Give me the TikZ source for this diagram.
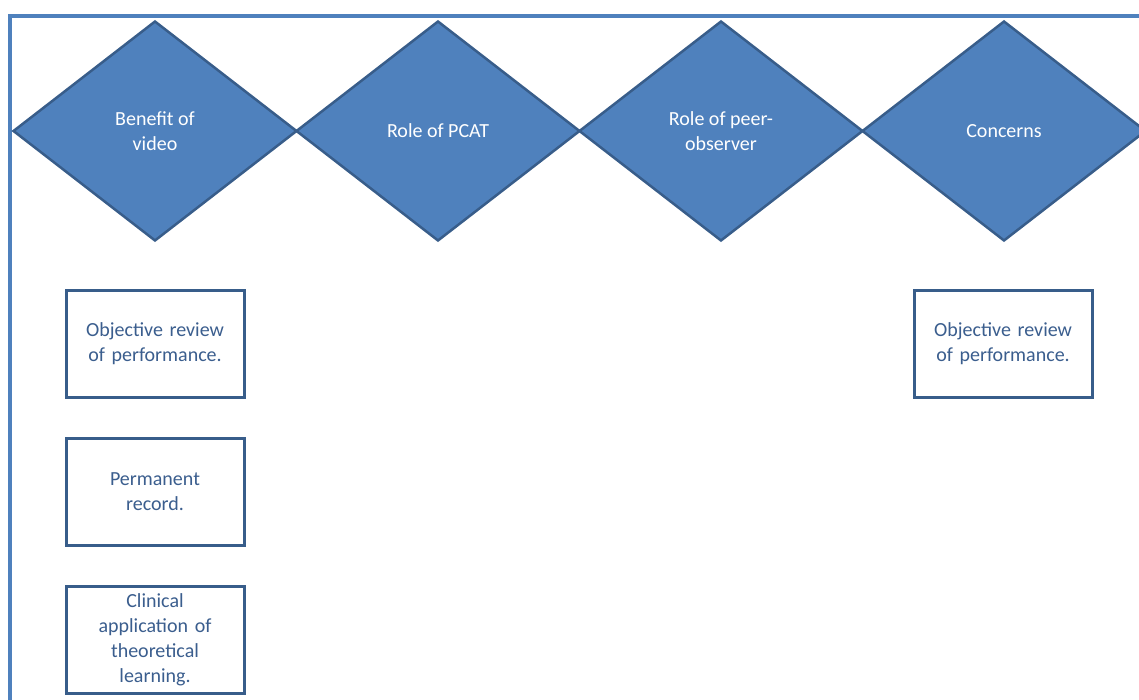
\documentclass[tikz,border=0pt]{standalone}
\usepackage{fontspec}
\setmainfont{Carlito}
\usepackage{xcolor}
\usetikzlibrary{shapes.geometric}
\definecolor{frameblue}{HTML}{4F81BD}
\definecolor{edgeblue}{HTML}{385D8A}
\definecolor{textblue}{HTML}{3B5E8E}

\begin{document}
\begin{tikzpicture}[ % GLOBAL CFG
    x=1pt, y=-1pt,
    font=\fontsize{20pt}{25pt}\selectfont,
    % Styles
    theme/.style={% For the top diamonds
        diamond,
        draw=edgeblue,
        fill=frameblue,
        line width=2.5pt,
        inner sep=0pt,
        minimum width=284pt,
        minimum height=220pt,
        text=white,
        align=center,
        },
    finding/.style={% For the boxes below
        rectangle,
        draw=edgeblue,
        fill=white,
        line width=3pt,
        inner sep=2pt,
        minimum width=178pt,
        minimum height=107pt,
        text width=172pt,
        text=textblue,
        align=center,
        },
    frameline/.style={% The open frame
        frameblue,
        line width=4pt,
        },
    ]
    \useasboundingbox (0,0) rectangle (1139,700);
    \clip (0,0) rectangle (1139,700);

    % Frame
    \coordinate (fbot) at (10,702);
    \coordinate (fcorner) at (10,16);
    \coordinate (fright) at (1141,16);
    \draw [frameline] (fbot) -- (fcorner) -- (fright);

    % Diamonds
    \node [theme] (benefit) at (155,131) {Benefit of\\video};
    \node [theme] (pcat) at (438,131) {Role of PCAT};
    \node [theme] (peer) at (721,131) {Role of peer-\\observer};
    \node [theme] (concerns) at (1004,131) {Concerns};

    % Boxes
    \node [finding] (objective1) at (155,344) {Objective review\\of performance.};
    \node [finding] (record) at (155,492) {Permanent\\record.};
    \node [finding] (clinical) at (155,640) {Clinical\\application of\\theoretical\\learning.};
    \node [finding] (objective2) at (1003,344) {Objective review\\of performance.};

\end{tikzpicture}
\end{document}
